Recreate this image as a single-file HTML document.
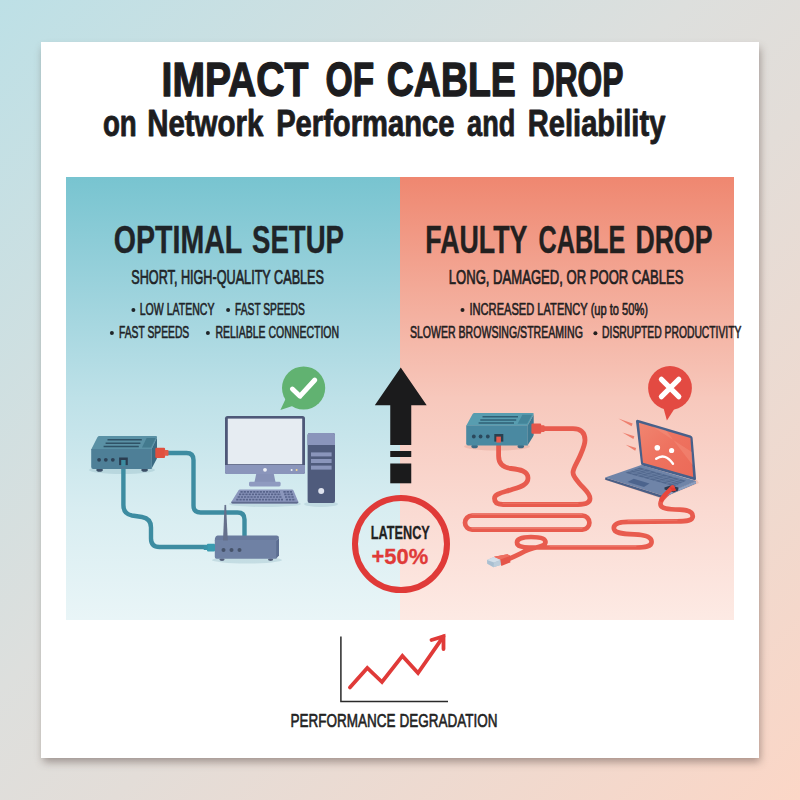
<!DOCTYPE html>
<html lang="en">
<head>
<meta charset="utf-8">
<title>Impact of Cable Drop on Network Performance and Reliability</title>
<style>
  html, body { margin: 0; padding: 0; width: 800px; height: 800px; overflow: hidden; background: #dfe1df; }
  svg { display: block; }
  text { font-family: "Liberation Sans", sans-serif; }
  .b { font-weight: bold; }
</style>
</head>
<body>
<svg width="800" height="800" viewBox="0 0 800 800">
  <defs>
    <linearGradient id="bg" x1="0" y1="0" x2="1" y2="1">
      <stop offset="0" stop-color="#bde0e6"/>
      <stop offset="0.43" stop-color="#dddfdd"/>
      <stop offset="0.57" stop-color="#e3ddd8"/>
      <stop offset="1" stop-color="#fbd6c6"/>
    </linearGradient>
    <linearGradient id="blue" x1="0" y1="0" x2="0" y2="1">
      <stop offset="0" stop-color="#78c4d0"/>
      <stop offset="0.25" stop-color="#9bd2dc"/>
      <stop offset="0.5" stop-color="#bee1e8"/>
      <stop offset="0.75" stop-color="#d8edf1"/>
      <stop offset="1" stop-color="#e9f5f7"/>
    </linearGradient>
    <linearGradient id="pink" x1="0" y1="0" x2="0" y2="1">
      <stop offset="0" stop-color="#ef8770"/>
      <stop offset="0.25" stop-color="#f3a997"/>
      <stop offset="0.5" stop-color="#f7c8bc"/>
      <stop offset="0.75" stop-color="#fadad2"/>
      <stop offset="1" stop-color="#fdeae4"/>
    </linearGradient>
    <filter id="cardShadow" x="-10%" y="-10%" width="120%" height="120%">
      <feGaussianBlur stdDeviation="4"/>
    </filter>
  </defs>

  <!-- page background -->
  <rect width="800" height="800" fill="url(#bg)"/>

  <!-- card -->
  <rect x="43" y="48" width="717" height="714" fill="#5a4a44" opacity="0.5" filter="url(#cardShadow)"/>
  <rect x="41" y="42" width="718" height="716" fill="#ffffff"/>

  <!-- panels -->
  <rect x="66" y="177" width="334" height="443" fill="url(#blue)"/>
  <rect x="400" y="177" width="334" height="443" fill="url(#pink)"/>

  <!-- TITLE -->
  <g id="title" fill="#1d1d1f" stroke="#1d1d1f" stroke-linejoin="round">
    <text class="b" x="161.56" y="96.0" font-size="48.6" textLength="146.84" lengthAdjust="spacingAndGlyphs" stroke-width="1.4">IMPACT</text>
    <text class="b" x="325.55" y="96.0" font-size="48.6" textLength="48.68" lengthAdjust="spacingAndGlyphs" stroke-width="1.4">OF</text>
    <text class="b" x="386.8" y="96.0" font-size="48.6" textLength="128.98" lengthAdjust="spacingAndGlyphs" stroke-width="1.4">CABLE</text>
    <text class="b" x="531.74" y="96.0" font-size="48.6" textLength="91.75" lengthAdjust="spacingAndGlyphs" stroke-width="1.4">DROP</text>
    <text class="b" x="102.94" y="135.7" font-size="36.5" textLength="33.82" lengthAdjust="spacingAndGlyphs" stroke-width="0.9">on</text>
    <text class="b" x="147.14" y="135.7" font-size="36.5" textLength="116.18" lengthAdjust="spacingAndGlyphs" stroke-width="0.9">Network</text>
    <text class="b" x="276.15" y="135.7" font-size="36.5" textLength="178.28" lengthAdjust="spacingAndGlyphs" stroke-width="0.9">Performance</text>
    <text class="b" x="467.04" y="135.7" font-size="36.5" textLength="48.26" lengthAdjust="spacingAndGlyphs" stroke-width="0.9">and</text>
    <text class="b" x="527.76" y="135.7" font-size="36.5" textLength="137.6" lengthAdjust="spacingAndGlyphs" stroke-width="0.9">Reliability</text>
  </g>

  <!-- LEFT TEXT -->
  <g id="ltext" fill="#1f2428" stroke="#1f2428" stroke-width="0" stroke-linejoin="round">
    <text class="b" x="113.81" y="252.8" font-size="38" textLength="128.44" lengthAdjust="spacingAndGlyphs" stroke-width="0.4">OPTIMAL</text>
    <text class="b" x="251.97" y="252.8" font-size="38" textLength="92.07" lengthAdjust="spacingAndGlyphs" stroke-width="0.4">SETUP</text>
    <text x="131.28" y="284.2" font-size="19.5" textLength="192.69" lengthAdjust="spacingAndGlyphs" stroke-width="0.7">SHORT, HIGH-QUALITY CABLES</text>
    <circle cx="133.4" cy="310.0" r="2.0" stroke="none"/><text x="139.71" y="314.7" font-size="15.7" textLength="74.74" lengthAdjust="spacingAndGlyphs" stroke-width="0.6">LOW LATENCY</text>
    <circle cx="228.1" cy="310.0" r="2.0" stroke="none"/><text x="235.08" y="314.7" font-size="15.7" textLength="69.71" lengthAdjust="spacingAndGlyphs" stroke-width="0.6">FAST SPEEDS</text>
    <circle cx="111.9" cy="333.0" r="2.0" stroke="none"/><text x="118.98" y="337.7" font-size="15.7" textLength="70.22" lengthAdjust="spacingAndGlyphs" stroke-width="0.6">FAST SPEEDS</text>
    <circle cx="207.9" cy="333.0" r="2.0" stroke="none"/><text x="215.46" y="337.7" font-size="15.7" textLength="123.58" lengthAdjust="spacingAndGlyphs" stroke-width="0.6">RELIABLE CONNECTION</text>
  </g>

  <!-- RIGHT TEXT -->
  <g id="rtext" fill="#23201f" stroke="#23201f" stroke-width="0" stroke-linejoin="round">
    <text class="b" x="425.26" y="252.6" font-size="38" textLength="102.13" lengthAdjust="spacingAndGlyphs" stroke-width="0.4">FAULTY</text>
    <text class="b" x="538.59" y="252.6" font-size="38" textLength="86.6" lengthAdjust="spacingAndGlyphs" stroke-width="0.4">CABLE</text>
    <text class="b" x="635.47" y="252.6" font-size="38" textLength="77.05" lengthAdjust="spacingAndGlyphs" stroke-width="0.4">DROP</text>
    <text x="448.8" y="284.4" font-size="19.5" textLength="234.68" lengthAdjust="spacingAndGlyphs" stroke-width="0.7">LONG, DAMAGED, OR POOR CABLES</text>
    <circle cx="462.5" cy="310.0" r="2.0" stroke="none"/><text x="469.5" y="314.8" font-size="15.7" textLength="178.52" lengthAdjust="spacingAndGlyphs" stroke-width="0.6">INCREASED LATENCY (up to 50%)</text>
    <text x="409.93" y="337.8" font-size="15.7" textLength="172.92" lengthAdjust="spacingAndGlyphs" stroke-width="0.6">SLOWER BROWSING/STREAMING</text>
    <circle cx="595.4" cy="333.2" r="2.0" stroke="none"/><text x="602.07" y="337.8" font-size="15.7" textLength="139.35" lengthAdjust="spacingAndGlyphs" stroke-width="0.6">DISRUPTED PRODUCTIVITY</text>
  </g>


  <!-- LEFT ILLUSTRATION -->
  <g id="leftill">
    <!-- soft shadows -->
    <ellipse cx="122" cy="470" rx="33" ry="4" fill="#7fa9b8" opacity="0.28"/>
    <ellipse cx="247" cy="560" rx="35" ry="3.5" fill="#7fa9b8" opacity="0.28"/>
    <ellipse cx="265" cy="504" rx="36" ry="3" fill="#7fa9b8" opacity="0.25"/>
    <ellipse cx="321" cy="504" rx="17" ry="3" fill="#7fa9b8" opacity="0.25"/>

    <!-- cable 1: modem side connector -> router top -->
    <path d="M167,453 H186.5 Q193.5,453 193.5,460 V505.5 Q193.5,512.5 200.5,512.5 H237.5 Q244.5,512.5 244.5,519.5 V538" fill="none" stroke="#3d8ca1" stroke-width="4.4" stroke-linecap="butt"/>
    <!-- cable 2: modem port -> router left -->
    <path d="M123.4,461 V505 Q123.4,514 132,515.5 L142,517 Q151,518.5 151,527.5 V538.5 Q151,547 159.5,547 H208" fill="none" stroke="#3d8ca1" stroke-width="4.4"/>

    <!-- modem -->
    <g>
      <ellipse cx="99.6" cy="470" rx="3.3" ry="1.8" fill="#3a4e66"/>
      <ellipse cx="144.6" cy="470" rx="3.3" ry="1.8" fill="#3a4e66"/>
      <path d="M99.5,436 H156 Q157.6,436 157,437.6 L151.4,449.4 H91.2 L97.4,437.2 Q98,436 99.5,436 Z" fill="#5a91a5"/>
      <path d="M146.6,438 H155.6 L151,447.4 H142 Z" fill="#437a8e"/>
      <path d="M151.4,449.4 L157,437.6 V457.2 Q157,458.4 156.4,459.6 L151.4,469 Z" fill="#3a6a82"/>
      <path d="M91.2,449 H151.6 V469 H93.2 Q91.2,469 91.2,467 Z" fill="#4e7f97"/>
      <g stroke="#2f5266" stroke-width="1.5" stroke-linecap="butt">
        <line x1="107.5" y1="439.8" x2="141.8" y2="439.8"/>
        <line x1="105.6" y1="443.2" x2="140.4" y2="443.2"/>
        <line x1="103.6" y1="446.6" x2="138.8" y2="446.6"/>
      </g>
      <circle cx="99.1" cy="459.8" r="1.9" fill="#2d4257"/>
      <circle cx="105.8" cy="459.8" r="1.9" fill="#2d4257"/>
      <circle cx="112.8" cy="459.8" r="1.9" fill="#2d4257"/>
      <rect x="119.1" y="457.5" width="8.7" height="7.6" fill="#2a3c50"/>
      <rect x="121.2" y="460" width="4.4" height="6" fill="#3d8ca1"/>
      <!-- red connector -->
      <rect x="155.3" y="447.7" width="9.8" height="10.2" rx="1.2" fill="#e0503f"/>
      <rect x="164.5" y="449.9" width="4" height="5.8" rx="0.8" fill="#e25a48"/>
    </g>

    <!-- router -->
    <g>
      <ellipse cx="222" cy="559.6" rx="2.6" ry="1.4" fill="#535e79"/>
      <ellipse cx="270.6" cy="559.6" rx="2.6" ry="1.4" fill="#535e79"/>
      <!-- antenna -->
      <path d="M217.5,535.6 H276.5 Q279,535.6 279,538 L276,540.4 H214.8 Q214.8,536.2 217.5,535.6 Z" fill="#697a9d"/>
      <path d="M276,540.4 L279,538 V555.5 L276,558.8 Z" fill="#5c6e92"/>
      <path d="M214.8,540 H276.2 V558.8 H216.6 Q214.8,558.8 214.8,557 Z" fill="#6f81a4"/>
      <path d="M224.5,505.5 Q225.3,504 226.1,505.5 L227.8,540.4 H223 Z" fill="#65708b"/>
      <circle cx="223.5" cy="550" r="2" fill="#46536a"/>
      <circle cx="231.5" cy="550" r="2" fill="#46536a"/>
      <circle cx="239.5" cy="550" r="2" fill="#46536a"/>
      <!-- teal connector -->
      <rect x="207" y="543.8" width="8" height="7.6" rx="0.8" fill="#3a9bb0"/>
      <rect x="203.6" y="545" width="4" height="5" rx="0.8" fill="#3a93a8"/>
    </g>

    <!-- monitor -->
    <g>
      <path d="M256.4,473 H273.6 L275.6,482.4 H254.4 Z" fill="#8691b7"/>
      <rect x="249" y="481.8" width="31.6" height="4.6" rx="1.4" fill="#8f9ac0"/>
      <rect x="225" y="416" width="80" height="58" rx="2.6" fill="#4e5878"/>
      <path d="M225,465 H305 V471.4 Q305,474 302.4,474 H227.6 Q225,474 225,471.4 Z" fill="#8a95bb"/>
      <rect x="227.8" y="418.6" width="74.4" height="45.6" fill="#e6ecf2"/>
      <circle cx="265" cy="469.8" r="1.9" fill="#eef1f6"/>
      <circle cx="291.6" cy="469.9" r="1" fill="#eef1f6"/>
      <circle cx="296.6" cy="469.9" r="1" fill="#f3d99a"/>
    </g>

    <!-- keyboard -->
    <g>
      <path d="M240,489.4 H292 Q293,489.4 293.5,490.4 L298.2,501.6 Q298.6,503.4 297,503.4 H232.6 Q231,503.4 231.6,501.6 L238.4,490.4 Q239,489.4 240,489.4 Z" fill="#8b96bc"/>
      <path d="M231.4,501.8 H298.3 Q298.6,503.4 297,503.4 H232.6 Q231,503.4 231.4,501.8 Z" fill="#5f6b8e"/>
      <g stroke="#57638a" stroke-width="1.7" stroke-dasharray="2.3 0.9">
        <line x1="240.4" y1="491.8" x2="280" y2="491.8"/>
        <line x1="239" y1="494.4" x2="281" y2="494.4"/>
        <line x1="237.6" y1="497" x2="282" y2="497"/>
        <line x1="236.2" y1="499.6" x2="283" y2="499.6"/>
        <line x1="283.4" y1="491.8" x2="292" y2="491.8"/>
        <line x1="284.2" y1="494.4" x2="293.2" y2="494.4"/>
        <line x1="285" y1="497" x2="294.4" y2="497"/>
        <line x1="285.8" y1="499.6" x2="295.6" y2="499.6"/>
      </g>
    </g>

    <!-- tower -->
    <g>
      <rect x="307.6" y="433" width="27.4" height="70" rx="2" fill="#4f5b7c"/>
      <path d="M309.6,433 H333 Q335,433 335,435 V445 H307.6 V435 Q307.6,433 309.6,433 Z" fill="#8a95bb"/>
      <rect x="311" y="452.4" width="20.6" height="4" fill="#8a95bb"/>
      <rect x="311" y="459" width="20.6" height="4" fill="#8a95bb"/>
      <rect x="311" y="465.6" width="20.6" height="4" fill="#8a95bb"/>
      <circle cx="321.2" cy="491" r="3" fill="#dfe3ee"/>
    </g>

    <!-- check bubble -->
    <g>
      <path d="M286,398 L280.4,410 L294,405.5 Z" fill="#61b271"/>
      <circle cx="303.6" cy="388" r="21.6" fill="#61b271"/>
      <polyline points="292.4,389 300,396.2 314.8,380" fill="none" stroke="#ffffff" stroke-width="4.9" stroke-linecap="round" stroke-linejoin="round"/>
    </g>
  </g>


  <!-- RIGHT ILLUSTRATION -->
  <g id="rightill">
    <defs>
      <linearGradient id="scr" x1="0" y1="0" x2="1" y2="1">
        <stop offset="0" stop-color="#f08570"/>
        <stop offset="0.5" stop-color="#ee725f"/>
        <stop offset="1" stop-color="#ec6a58"/>
      </linearGradient>
    </defs>
    <!-- soft shadows -->
    <ellipse cx="497" cy="446.5" rx="33" ry="4" fill="#d98a78" opacity="0.28"/>
    <path d="M603,479 L661,498.5 L699,483 L697,480 Z" fill="#d98a78" opacity="0.3"/>

    <!-- cable A: modem port -> loops -> modem side connector -->
    <g fill="none" stroke-linecap="round" stroke-linejoin="round">
      <path id="cabA" d="M498.6,440 V456 C498.6,464 503,467.5 511,468.5 C520,469.5 528,471 528,478 C528,485 520,487 512,489.5 C503,492.5 494.5,493.5 494.5,498.5 C494.5,503 498,504.5 503,504.5 H578 C586,504.5 590,502 590,498.5 C590,493 584,489 579,483 C575,478 573,476 573,472.5 C573,468 577,463 580,456 C583,449 585,445 585,440 C585,432 580,428.6 573,428.6 H543" stroke="#e85b4e" stroke-width="4.8"/>
      <!-- closed flat loop -->
      <rect x="465" y="515.7" width="124.4" height="14" rx="7" stroke="#e85b4e" stroke-width="4.7"/>
      <!-- cable C: laptop -> small loop -> loose plug -->
      <path id="cabC" d="M672.2,489.6 C668,493.5 661,498 660.5,503.4 C660,509 669,509.3 679.8,509.6 C687,509.8 692.8,511.5 692.8,516.2 C692.8,520.6 687,521.3 677,521.4 L628,521.9 C620,522 613.8,523.5 613.8,528.1 C613.8,533 621,533.8 634.4,534.4 C644,534.8 651.6,536.5 651.6,541.9 C651.6,546.5 645,547.4 636,547.5 H531 C522,547.8 517,546 517,542.4 C517,538.6 523,537 531,537 C540,537 545.5,538.5 545.5,542 C545.5,545.4 540,546.8 534,548 C527,549.6 521,553.6 509.5,558.6" stroke="#e85b4e" stroke-width="4.7"/>
    </g>
    <!-- subtle highlights on cables -->
    <g fill="none" stroke="#f28c7c" stroke-width="1" opacity="0.55" stroke-linecap="round">
      <path d="M503,503.3 H578"/>
      <path d="M472,514.5 H582"/>
      <path d="M472,528.5 H582"/>
      <path d="M550,546.3 H636"/>
      <path d="M628,520.7 L677,520.2"/>
    </g>

    <!-- loose plug -->
    <g>
      <path d="M487,560 L493.4,557.2 L501,560.2 L501.2,564.8 L493.4,567.2 L487.2,563.8 Z" fill="#a9bfd1"/>
      <path d="M487,560 L493.4,557.2 L500.8,560 L494,562.6 Z" fill="#d3dfe9"/>
      <path d="M494,562.6 L500.8,560 L501.2,564.8 L493.4,567.2 Z" fill="#bccddb"/>
      <path d="M494,556.7 L507.4,554.3 L510.2,555.8 L510.4,562.4 L501.3,566 L500.3,559.6 Z" fill="#e5554a"/>
      <path d="M494,556.7 L507.4,554.3 L510.2,555.8 L500.3,559.6 Z" fill="#ee6f61"/>
    </g>

    <!-- modem -->
    <g>
      <ellipse cx="474.6" cy="446.4" rx="3.3" ry="1.8" fill="#3d6a84"/>
      <ellipse cx="520.8" cy="446.4" rx="3.3" ry="1.8" fill="#3d6a84"/>
      <path d="M474.6,412.9 H532.4 Q534.3,412.9 533.6,414.6 L527.5,425.8 H466.2 L472.6,414.1 Q473.2,412.9 474.6,412.9 Z" fill="#589db0"/>
      <path d="M522.4,414.8 H532 L527.2,423.8 H517.6 Z" fill="#43859a"/>
      <path d="M527.5,425.8 L533.7,414.6 V434.2 Q533.7,435.4 533.1,436.4 L527.5,445.5 Z" fill="#3e7a92"/>
      <path d="M466.2,425.4 H527.7 V445.5 H468.2 Q466.2,445.5 466.2,443.5 Z" fill="#4a89a1"/>
      <g stroke="#2f6076" stroke-width="1.5">
        <line x1="482.5" y1="416.8" x2="518" y2="416.8"/>
        <line x1="480.3" y1="420" x2="516.2" y2="420"/>
        <line x1="478.6" y1="423.1" x2="514" y2="423.1"/>
      </g>
      <circle cx="473.8" cy="436.5" r="1.9" fill="#2b485c"/>
      <circle cx="480.6" cy="436.5" r="1.9" fill="#2b485c"/>
      <circle cx="487.8" cy="436.5" r="1.9" fill="#2b485c"/>
      <rect x="494.3" y="434" width="9" height="7.6" fill="#29404f"/>
      <rect x="496.3" y="436.6" width="4.6" height="6" fill="#e85b4e"/>
      <rect x="531.4" y="423.6" width="9.8" height="10.2" rx="1.2" fill="#e5564a"/>
      <rect x="540.6" y="425.3" width="4" height="6.7" rx="0.8" fill="#e85b4e"/>
    </g>

    <!-- speed lines -->
    <g fill="#ee7f6e">
      <path d="M618.4,418.6 L632.6,423.4 L631.6,426.2 Z"/>
      <path d="M622.4,432.4 L634.4,436.2 L633.4,439 Z"/>
      <path d="M625.8,444.8 L636.2,448 L635.2,450.8 Z"/>
    </g>

    <!-- laptop -->
    <g>
      <!-- deck side thickness -->
      <path d="M605.2,477.6 L661.9,495.2 L696,481 L696,483.6 L661.9,498 L605.2,479.8 Z" fill="#4a5f86"/>
      <path d="M661.9,495.2 L696,481 L696,483.6 L661.9,498 Z" fill="#8c9fc0"/>
      <!-- deck top -->
      <path d="M641.25,465 L696,481 L661.9,495.2 L605.2,477.6 Z" fill="#6f84a8"/>
      <!-- keys -->
      <path d="M639.9,467.6 L686,480.8 L674.2,486.2 L625.4,472.7 Z" fill="#52688e"/>
      <g stroke="#6f84a8" stroke-width="0.6" fill="none">
        <path d="M636.3,468.9 L683,482.2 M632.7,470.2 L680.1,483.5 M629,471.5 L677.2,484.9"/>
        <path d="M645.6,469.2 L631,474.3 M651.4,470.9 L636.8,475.9 M657.2,472.5 L642.6,477.5 M663,474.2 L648.4,479.1 M668.8,475.8 L654.2,480.7 M674.6,477.5 L660,482.3 M680.4,479.2 L665.8,483.9"/>
      </g>
      <!-- trackpad -->
      <path d="M633.7,478.8 L649.5,483.6 L644,487 L627.5,481.9 Z" fill="#4c648d"/>
      <!-- lid -->
      <path d="M638.4,419.9 L690.6,435.4 Q692.4,436 692.6,437.8 L696,478.4 Q696.2,480.6 694,480 L642.6,465.5 Q641.2,465.1 641,463.6 L636,421.6 Q635.8,419.2 638.4,419.9 Z" fill="#47608a"/>
      <path d="M638.9,422.8 L690.4,437.9 L693.2,477 L643,462.8 Z" fill="url(#scr)"/>
      <path d="M652,426.3 L666,430.4 L692.6,465 L691.8,452 Z" fill="#f59a88" opacity="0.35"/>
      <!-- face -->
      <circle cx="657.3" cy="447.7" r="2.8" fill="#fff"/>
      <circle cx="671.6" cy="450.5" r="2.6" fill="#fff"/>
      <path d="M656.2,458.8 Q665,452.4 673,463.8" fill="none" stroke="#fff" stroke-width="2.4" stroke-linecap="round"/>
      <!-- plug on laptop -->
      <path d="M664.4,487.6 L670.4,485.6 L678.4,487.6 L678.2,490.4 L673.6,492.4 L664.6,489.4 Z" fill="#2f3a50"/>
      <path d="M672.6,487.4 C669,491 664,495 661.4,499.6" fill="none" stroke="#e8483d" stroke-width="4.6" stroke-linecap="round"/>
      <path d="M669.4,486.9 L675.2,488.3 L676.2,490.6 L672.6,491.6 Z" fill="#e53a30"/>
    </g>

    <!-- X bubble -->
    <g>
      <path d="M663.2,407 L666.9,420.6 L676.2,406 Z" fill="#e34a42"/>
      <circle cx="670" cy="388" r="21.9" fill="#e34a42"/>
      <path d="M661.4,379.3 L678.8,396.7 M678.8,379.3 L661.4,396.7" stroke="#fff" stroke-width="5.2" stroke-linecap="round"/>
    </g>
  </g>

  <!-- CENTER ARROW -->
  <g id="arrow" fill="#1b1b1c">
    <polygon points="400.75,367.5 426.7,405.3 411.25,405.3 411.25,445 390.25,445 390.25,405.3 374.8,405.3"/>
    <rect x="390.25" y="451" width="21" height="6"/>
    <rect x="390.25" y="463.5" width="21" height="19.8"/>
  </g>

  <!-- LATENCY CIRCLE -->
  <g id="latency">
    <circle cx="401" cy="544" r="46" fill="none" stroke="#e03a38" stroke-width="6"/>
    <text class="b" x="370.83" y="538.9" font-size="18.6" fill="#222" stroke="#222" stroke-width="0.3" textLength="58.95" lengthAdjust="spacingAndGlyphs">LATENCY</text>
    <text class="b" x="371.52" y="564.2" font-size="22.6" fill="#e03a38" stroke="#e03a38" stroke-width="0.3" textLength="56.63" lengthAdjust="spacingAndGlyphs">+50%</text>
  </g>

  <!-- CHART -->
  <g id="chart">
    <polyline points="340.9,636.4 340.9,701.5 448,701.5" fill="none" stroke="#2a2a2a" stroke-width="1.5"/>
    <polyline points="349.9,687.4 367.3,667.9 382,682 402.4,655.9 418,673 443.5,636.4" fill="none" stroke="#e03a38" stroke-width="3.8" stroke-linecap="round" stroke-linejoin="miter"/>
    <polyline points="431.5,640 443.5,636.4 443.5,649" fill="none" stroke="#e03a38" stroke-width="3.8" stroke-linecap="round" stroke-linejoin="miter"/>
    <text x="290.62" y="727" font-size="18" fill="#222" stroke="#222" stroke-width="0.6" stroke-linejoin="round" textLength="206.78" lengthAdjust="spacingAndGlyphs">PERFORMANCE DEGRADATION</text>
  </g>
</svg>
</body>
</html>
